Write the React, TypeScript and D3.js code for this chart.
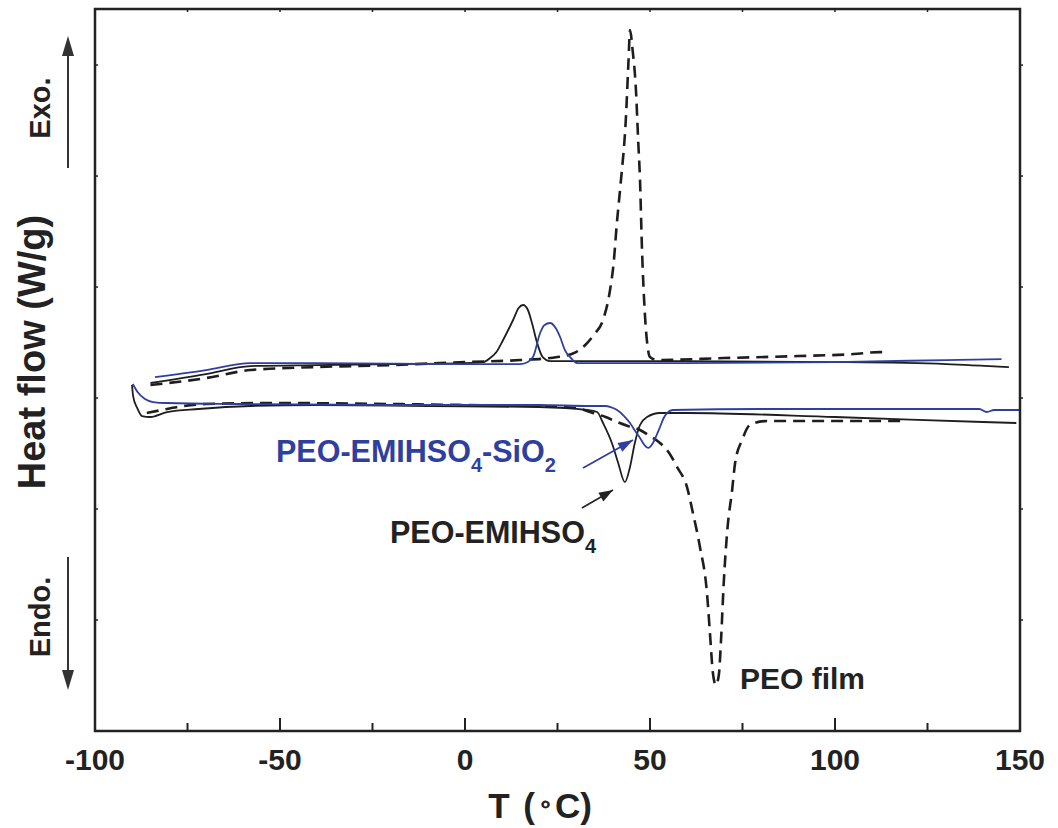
import React from "react";
import * as d3 from "d3";

// ---- Data (T in °C, heat flow in arbitrary W/g offset units) ----
const peoFilmCooling: [number, number][] = [
  [-85, 3.117], [-70, 3.18], [-58, 3.252], [-40, 3.279], [-20, 3.297], [0, 3.324],
  [15, 3.342], [25, 3.369], [30, 3.414], [33, 3.495], [35, 3.577], [37.3, 3.703],
  [39.2, 3.973], [40.2, 4.225], [41, 4.559], [42, 4.91], [43.5, 5.532], [44.2, 6.045],
  [44.6, 6.315], [45.3, 6.135], [46.2, 5.775], [46.8, 5.324], [47.3, 4.964],
  [47.8, 4.378], [48.6, 3.766], [49.3, 3.477], [50, 3.369], [52, 3.342], [70, 3.36],
  [90, 3.378], [105, 3.396], [112, 3.414], [114, 3.414],
];
const peoFilmHeating: [number, number][] = [
  [-86, 2.865], [-82, 2.892], [-76, 2.928], [-70, 2.946], [-50, 2.955], [-20, 2.946],
  [0, 2.937], [20, 2.928], [30, 2.91], [34.6, 2.865], [38, 2.829], [41.1, 2.784],
  [44, 2.748], [47.3, 2.712], [50, 2.658], [52.7, 2.595], [55, 2.514], [57.3, 2.379],
  [60, 2.198], [61.6, 1.964], [63.5, 1.658], [65.4, 1.243], [66.2, 0.883], [67, 0.523],
  [67.8, 0.414], [68.6, 0.505], [69.2, 0.82], [69.9, 1.315], [70.9, 1.811],
  [72.2, 2.171], [73, 2.415], [74.9, 2.622], [77, 2.757], [81.6, 2.793], [100, 2.793],
  [117.6, 2.793],
];
const ilCooling: [number, number][] = [
  [-85, 3.135], [-70, 3.216], [-58, 3.288], [-40, 3.297], [-20, 3.306], [0, 3.315],
  [5, 3.324], [6.8, 3.36], [8.5, 3.414], [10.3, 3.523], [13, 3.703], [14.5, 3.811],
  [15.7, 3.838], [17, 3.793], [18.1, 3.676], [19.5, 3.495], [21, 3.369], [23, 3.333],
  [50, 3.333], [100, 3.324], [130, 3.306], [147, 3.279],
];
const ilHeating: [number, number][] = [
  [-90, 3.117], [-89.7, 3.018], [-88.6, 2.91], [-87.3, 2.838], [-85, 2.829],
  [-80.5, 2.874], [-72, 2.901], [-58, 2.928], [-40, 2.937], [-10, 2.928], [20, 2.919],
  [33, 2.892], [35.7, 2.874], [37.3, 2.775], [39.7, 2.595], [41.4, 2.415],
  [43.2, 2.243], [44.6, 2.379], [45.9, 2.595], [47.3, 2.757], [49.2, 2.829],
  [52.7, 2.865], [60, 2.865], [100, 2.829], [140, 2.784], [149, 2.775],
];
const silicaCooling: [number, number][] = [
  [-83.8, 3.189], [-70, 3.252], [-58, 3.315], [-40, 3.315], [0, 3.306], [15, 3.306],
  [17, 3.324], [18.5, 3.378], [20.3, 3.586], [21.5, 3.658], [23, 3.676], [24.5, 3.631],
  [25.7, 3.55], [27, 3.432], [28.4, 3.369], [30.3, 3.315], [60, 3.315], [100, 3.324],
  [130, 3.342], [145, 3.351],
];
const silicaHeating: [number, number][] = [
  [-89.8, 3.126], [-88.5, 3.054], [-86.5, 2.991], [-84.3, 2.964], [-80.5, 2.955],
  [-60, 2.946], [-20, 2.937], [20, 2.937], [34, 2.928], [38, 2.928], [40, 2.91],
  [41.1, 2.892], [43, 2.838], [44.6, 2.775], [46, 2.703], [47.3, 2.64], [48.5, 2.577],
  [49.5, 2.55], [50.8, 2.595], [51.8, 2.667], [52.7, 2.739], [53.7, 2.82],
  [54.6, 2.865], [56.2, 2.892], [80, 2.901], [100, 2.901], [120, 2.901], [139, 2.901],
  [141, 2.874], [143, 2.892], [150, 2.892],
];

const xMajorTicks = [-100, -50, 0, 50, 100, 150];
const xMinorTicks = [-75, -25, 25, 75, 125];
const yTicks = [1, 2, 3, 4, 5, 6];

// annotation arrows, in data coordinates [T, heat flow]
const silicaArrow: [number, number][] = [[31.9, 2.369], [45.4, 2.622]];
const ilArrow: [number, number][] = [[31.6, 2.009], [40.0, 2.171]];

const BLUE = "#2f3f9f";
const BLACK = "#1e1e1e";
const FONT = "'Liberation Sans', Arial, Helvetica, sans-serif";

export default function App() {
  const W = 1058, H = 828;
  const m = { left: 95, right: 1020, top: 9, bottom: 731 };
  const x = d3.scaleLinear().domain([-100, 150]).range([m.left, m.right]);
  const y = d3.scaleLinear().domain([0, 6.505]).range([m.bottom, m.top]);
  const line = d3
    .line<[number, number]>()
    .x((d) => x(d[0]))
    .y((d) => y(d[1]))
    .curve(d3.curveMonotoneX);

  const arrowHead = (x1: number, y1: number, x2: number, y2: number, len: number, half: number) => {
    const a = Math.atan2(y2 - y1, x2 - x1);
    const bx = x2 - len * Math.cos(a), by = y2 - len * Math.sin(a);
    const px = -Math.sin(a) * half, py = Math.cos(a) * half;
    return `${x2},${y2} ${bx + px},${by + py} ${bx - px},${by - py}`;
  };

  const bA = [x(silicaArrow[0][0]), y(silicaArrow[0][1]), x(silicaArrow[1][0]), y(silicaArrow[1][1])];
  const kA = [x(ilArrow[0][0]), y(ilArrow[0][1]), x(ilArrow[1][0]), y(ilArrow[1][1])];

  return (
    <svg
      width={W}
      height={H}
      style={{ position: "absolute", left: 0, top: 0, background: "#fff" }}
      fontFamily={FONT}
    >
      <rect x={0} y={0} width={W} height={H} fill="#fff" />
      {/* curves */}
      <path d={line(peoFilmCooling) || ""} fill="none" stroke={BLACK} strokeWidth={2.6} strokeDasharray="12,7" />
      <path d={line(peoFilmHeating) || ""} fill="none" stroke={BLACK} strokeWidth={2.6} strokeDasharray="12,7" />
      <path d={line(ilCooling) || ""} fill="none" stroke={BLACK} strokeWidth={1.8} />
      <path d={line(ilHeating) || ""} fill="none" stroke={BLACK} strokeWidth={1.8} />
      <path d={line(silicaCooling) || ""} fill="none" stroke={BLUE} strokeWidth={1.8} />
      <path d={line(silicaHeating) || ""} fill="none" stroke={BLUE} strokeWidth={1.8} />

      {/* frame */}
      <rect x={m.left} y={m.top} width={m.right - m.left} height={m.bottom - m.top} fill="none" stroke="#222" strokeWidth={2.5} />
      {xMajorTicks.map((t) => (
        <g key={"M" + t}>
          <line x1={x(t)} x2={x(t)} y1={m.bottom} y2={m.bottom - 13} stroke="#222" strokeWidth={2} />
          <line x1={x(t)} x2={x(t)} y1={m.top} y2={m.top + 3} stroke="#222" strokeWidth={1.5} />
          <text x={x(t)} y={770} textAnchor="middle" fontSize={30} fontWeight="bold" fill="#222">
            {t}
          </text>
        </g>
      ))}
      {xMinorTicks.map((t) => (
        <g key={"m" + t}>
          <line x1={x(t)} x2={x(t)} y1={m.bottom} y2={m.bottom - 8} stroke="#222" strokeWidth={2} />
          <line x1={x(t)} x2={x(t)} y1={m.top} y2={m.top + 3} stroke="#222" strokeWidth={1.5} />
        </g>
      ))}
      {yTicks.map((v) => (
        <g key={"y" + v}>
          <line x1={m.left} x2={m.left + 3} y1={y(v)} y2={y(v)} stroke="#222" strokeWidth={1.5} />
          <line x1={m.right} x2={m.right + 3} y1={y(v)} y2={y(v)} stroke="#222" strokeWidth={1.5} />
        </g>
      ))}

      {/* axis titles */}
      <text x={540} y={818} textAnchor="middle" fontSize={35} fontWeight="bold" fill="#222">
        T <tspan dx={4}>(</tspan>
        <tspan fontSize={24} dy={-6} dx={3}>∘</tspan>
        <tspan dy={6} dx={2}>C)</tspan>
      </text>
      <text transform="translate(45,352) rotate(-90)" textAnchor="middle" fontSize={38} fontWeight="bold" fill="#222">
        Heat flow (W/g)
      </text>
      <text transform="translate(50,108) rotate(-90)" textAnchor="middle" fontSize={29} fontWeight="bold" fill="#222">
        Exo.
      </text>
      <text transform="translate(50,617) rotate(-90)" textAnchor="middle" fontSize={29} fontWeight="bold" fill="#222">
        Endo.
      </text>
      <line x1={68} x2={68} y1={168} y2={50} stroke="#333" strokeWidth={2} />
      <polygon points={arrowHead(68, 168, 68, 36, 20, 6)} fill="#333" />
      <line x1={68} x2={68} y1={557} y2={676} stroke="#333" strokeWidth={2} />
      <polygon points={arrowHead(68, 557, 68, 690, 20, 6)} fill="#333" />

      {/* annotations */}
      <text x={276} y={462} fontSize={30.5} fontWeight="bold" fill={BLUE}>
        PEO-EMIHSO<tspan fontSize={20} dy={10}>4</tspan>
        <tspan dy={-10}>-SiO</tspan>
        <tspan fontSize={20} dy={10}>2</tspan>
      </text>
      <line x1={bA[0]} y1={bA[1]} x2={bA[2]} y2={bA[3]} stroke={BLUE} strokeWidth={1.8} />
      <polygon points={arrowHead(bA[0], bA[1], bA[2], bA[3], 15, 5)} fill={BLUE} />

      <text x={390} y={543} fontSize={30.5} fontWeight="bold" fill="#222">
        PEO-EMIHSO<tspan fontSize={20} dy={10}>4</tspan>
      </text>
      <line x1={kA[0]} y1={kA[1]} x2={kA[2]} y2={kA[3]} stroke="#222" strokeWidth={1.6} />
      <polygon points={arrowHead(kA[0], kA[1], kA[2], kA[3], 14, 5)} fill="#222" />

      <text x={740} y={689} fontSize={30} fontWeight="bold" fill="#222">
        PEO film
      </text>
    </svg>
  );
}
